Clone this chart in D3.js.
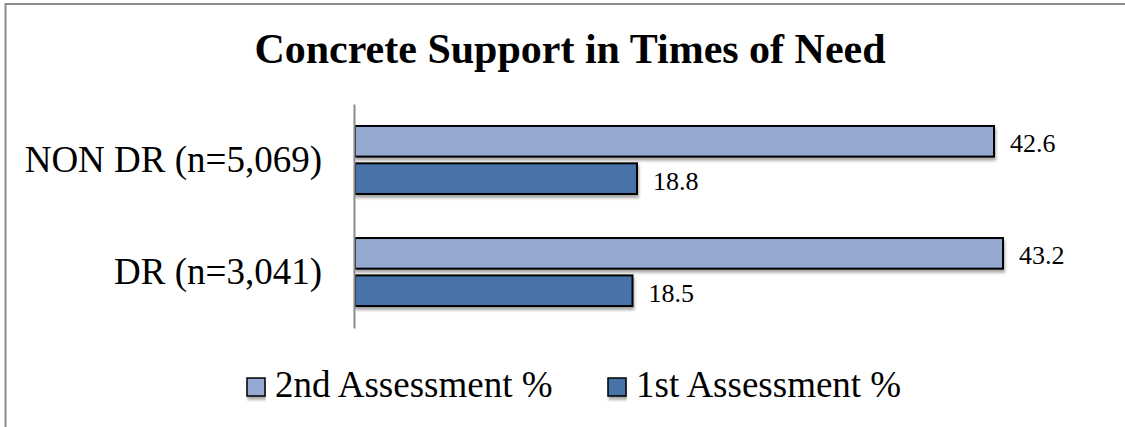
<!DOCTYPE html>
<html>
<head>
<meta charset="utf-8">
<script src="https://cdn.jsdelivr.net/npm/d3@7"></script>
<style>
  body { margin: 0; background: #fff; }
  svg { display: block; }
  svg text { font-family: "Liberation Serif", "Times New Roman", serif; }
</style>
</head>
<body>
<svg id="chart" width="1125" height="427"></svg>
<script>
// chart values
let categories = ['NON DR (n=5,069)', 'DR (n=3,041)']
let seriesNames = ['2nd Assessment %', '1st Assessment %']
let secondValues = [42.6, 43.2]
let firstValues = [18.8, 18.5]
let seriesColors = ['#95a9d1', '#4673a8']

let svg = d3.select('#chart')
let serif = '"Liberation Serif", "Times New Roman", serif'

// outer frame (only top/left edges show in the picture)
svg.append('rect')
    .attr('x', 5.5)
    .attr('y', 4)
    .attr('width', 1400)
    .attr('height', 600)
    .attr('fill', 'none')
    .attr('stroke', '#8c8c8c')
    .attr('stroke-width', 2)

let defs = svg.append('defs')
let shadow = defs.append('filter')
    .attr('id', 'shadow')
    .attr('x', '-5%').attr('y', '-20%')
    .attr('width', '110%').attr('height', '160%')
shadow.append('feDropShadow')
    .attr('dx', 1)
    .attr('dy', 3)
    .attr('stdDeviation', 1.5)
    .attr('flood-color', '#000')
    .attr('flood-opacity', 0.35)

svg.append('text')
    .attr('x', 570)
    .attr('y', 63)
    .attr('text-anchor', 'middle')
    .attr('font-family', serif)
    .attr('font-size', 42)
    .attr('font-weight', 'bold')
    .text('Concrete Support in Times of Need')

let x = d3.scaleLinear()
    .domain([0, 50])
    .range([355, 1105])

let y = d3.scaleBand()
    .domain(categories)
    .range([104, 328])
    .paddingInner(0.393)
    .paddingOuter(0.196)

let ySub = d3.scaleBand()
    .domain(seriesNames)
    .range([0, y.bandwidth()])
    .paddingInner(0.18)

let rows = categories.map((cat, i) => {
    return {
        cat: cat,
        bars: [
            { series: seriesNames[0], value: secondValues[i], color: seriesColors[0] },
            { series: seriesNames[1], value: firstValues[i], color: seriesColors[1] }
        ]
    }
})

let groups = svg.append('g')
    .attr('id', 'bars')
    .selectAll('g')
    .data(rows)
    .enter()
    .append('g')
    .attr('transform', (d) => 'translate(0,' + y(d.cat) + ')')

groups.selectAll('rect')
    .data((d) => d.bars)
    .enter()
    .append('rect')
    .attr('x', x(0))
    .attr('y', (b) => ySub(b.series))
    .attr('width', (b) => x(b.value) - x(0))
    .attr('height', ySub.bandwidth())
    .attr('fill', (b) => b.color)
    .attr('stroke', '#000')
    .attr('stroke-width', 2)
    .attr('filter', 'url(#shadow)')

groups.selectAll('text')
    .data((d) => d.bars)
    .enter()
    .append('text')
    .attr('x', (b) => x(b.value) + 16)
    .attr('y', (b) => ySub(b.series) + ySub.bandwidth() / 2 + 11)
    .attr('font-family', serif)
    .attr('font-size', 26)
    .attr('fill', '#000')
    .text((b) => b.value.toFixed(1))

// category axis
let yAxis = d3.axisLeft(y).tickSize(0).tickPadding(32)
let axisG = svg.append('g')
    .attr('transform', 'translate(' + (x(0) - 1) + ',0)')
    .call(yAxis)
    .attr('font-family', serif)
axisG.select('.domain')
    .attr('stroke', '#8c8c8c')
    .attr('stroke-width', 2)
axisG.selectAll('.tick text')
    .attr('font-size', 37)
    .attr('fill', '#000')
    .attr('dy', '0.33em')

// legend
let legendX = [247, 608]
let legend = svg.append('g')
    .attr('id', 'legend')
    .selectAll('g')
    .data(seriesNames)
    .enter()
    .append('g')
    .attr('transform', (d, i) => 'translate(' + legendX[i] + ',378)')

legend.append('rect')
    .attr('width', 18)
    .attr('height', 18)
    .attr('fill', (d, i) => seriesColors[i])
    .attr('stroke', '#000')
    .attr('stroke-width', 1.5)
    .attr('filter', 'url(#shadow)')

legend.append('text')
    .attr('x', 28)
    .attr('y', 19)
    .attr('font-family', serif)
    .attr('font-size', 37)
    .text((d) => d)
</script>
</body>
</html>
